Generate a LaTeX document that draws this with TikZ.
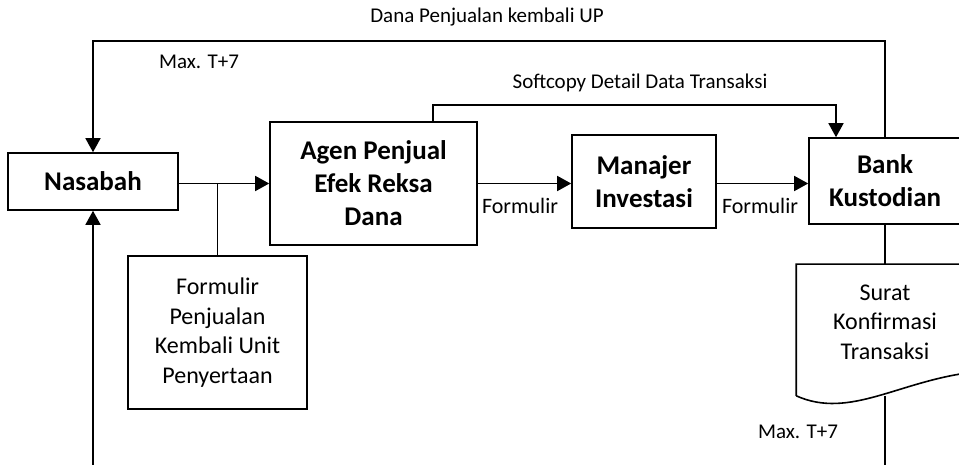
\documentclass[tikz,border=0pt]{standalone}
\usepackage{fontspec}
\setmainfont{Carlito}
\usetikzlibrary{arrows.meta}

\begin{document}
\begin{tikzpicture}[
                x=1pt, y=-1pt,
                line width=1.6pt,
                box/.style={draw, rectangle, align=center, inner sep=0pt},
                boldtxt/.style={font=\fontsize{27}{33}\selectfont\bfseries},
                plaintxt/.style={font=\fontsize{24}{29.6}\selectfont},
                lbl/.style={font=\fontsize{21}{25}\selectfont, inner sep=0pt},
                arr/.style={-{Triangle[length=14pt,width=15pt]}}
            ]
                \useasboundingbox (0,0) rectangle (959,465);
                \clip (0,0) rectangle (959,465);
                \node[box, boldtxt, minimum width=170, minimum height=57] (nasabah) at (93,181.5) {Nasabah};
                \node[box, boldtxt, minimum width=207, minimum height=123] (agen) at (373.5,183.5) {Agen Penjual\\Efek Reksa\\Dana};
                \node[box, boldtxt, minimum width=144, minimum height=93] (manajer) at (644,181.5) {Manajer\\Investasi};
                \node[box, boldtxt, minimum width=152, minimum height=86] (bank) at (885,181) {Bank\\Kustodian};
                \node[box, plaintxt, minimum width=179, minimum height=153] (formulir) at (217.5,332.5) {Formulir\\Penjualan\\Kembali Unit\\Penyertaan};
                \node[minimum width=176, minimum height=130, inner sep=0pt] (surat) at (885,330) {};
                \node[plaintxt, align=center] (suratTxt) at (885,322) {Surat\\Konfirmasi\\Transaksi};
                \draw (surat.south west) -- (surat.north west) -- (surat.north east) -- (975,372)
                    .. controls (900,380) and (850,420) .. (surat.south west);
                \coordinate (topR) at (885,41);
                \coordinate (inL) at (93,470);
                \coordinate (outR) at (885,470);
                \draw[arr] (bank.north) -- (topR) -| (nasabah.north);
                \draw[arr] ([xshift=59.5pt]agen.north) -- ++(0,-16) -| ([xshift=-49pt]bank.north);
                \draw[arr] (nasabah.east |- agen.west) -- (agen.west);
                \draw (formulir.north) -- (formulir.north |- agen.west);
                \draw[arr] (agen.east) -- (agen.east -| manajer.west);
                \draw[arr] (agen.east -| manajer.east) -- (agen.east -| bank.west);
                \draw (bank.south) -- (surat.north);
                \draw (surat.south) -- (outR);
                \draw[arr] (inL) -- (nasabah.south);
                \node[lbl] (lblDana) at (487,17) {Dana Penjualan kembali UP};
                \node[lbl] (lblMaxA) at (199,62) {Max. T+7};
                \node[lbl] (lblSoft) at (640,83) {Softcopy Detail Data Transaksi};
                \node[lbl, font=\fontsize{22}{26}\selectfont] (lblFormA) at (520,206) {Formulir};
                \node[lbl, font=\fontsize{22}{26}\selectfont] (lblFormB) at (760,206) {Formulir};
                \node[lbl] (lblMaxB) at (798,432) {Max. T+7};
            \end{tikzpicture}
\end{document}
